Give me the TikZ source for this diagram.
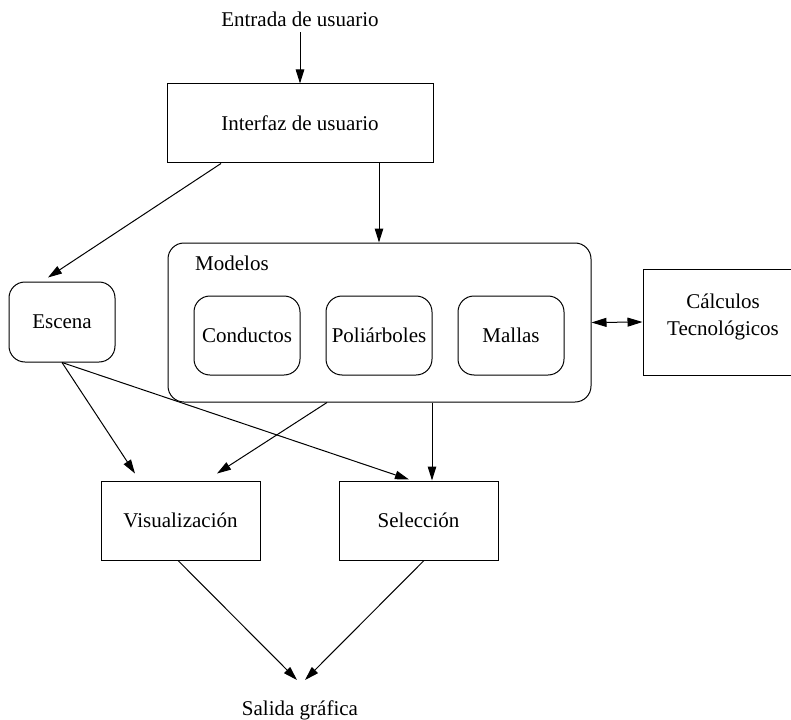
\documentclass[tikz,border=0pt]{standalone}
\usepackage{fontspec}
\setmainfont{Liberation Serif}
\usetikzlibrary{arrows.meta,calc}
\begin{document}
\begin{tikzpicture}[x=1pt,y=-1pt,
  every node/.style={font=\fontsize{21}{27}\selectfont},
  rect/.style={draw, line width=1pt, inner sep=0pt},
  rbox/.style={rect, rounded corners=16pt},
  conn/.style={line width=1pt, -{Triangle[length=14pt,width=8.5pt]}},
  dconn/.style={line width=1pt, {Triangle[length=15pt,width=9pt]}-{Triangle[length=15pt,width=9pt]}}]
\useasboundingbox (0,0) rectangle (791,719);
\clip (0,0) rectangle (791,719);

\node[anchor=base, inner xsep=0pt, inner ysep=5pt] (entrada) at (300,27) {Entrada de usuario};
\node[rect, minimum width=266, minimum height=79] (interfaz) at (300,123.5) {Interfaz de usuario};
\node[rbox, minimum width=106, minimum height=80] (escena) at (62,322) {Escena};
\node[rbox, minimum width=423, minimum height=159] (modelos) at (379.5,322.5) {};
\node[anchor=base west, inner sep=0pt] (modeloslbl) at (195,270) {Modelos};
\node[rbox, minimum width=106, minimum height=79] (conductos) at (247,335.5) {Conductos};
\node[rbox, minimum width=106, minimum height=79] (poli) at (379,335.5) {Poliárboles};
\node[rbox, minimum width=106, minimum height=79] (mallas) at (511,335.5) {Mallas};
\node[rect, minimum width=160, minimum height=106] (calculos) at (723,322) {};
\node[align=center, inner sep=0pt] (calculostxt) at (723,316.5) {Cálculos\\Tecnológicos};
\node[rect, minimum width=159, minimum height=79] (visual) at (180.5,520.5) {Visualización};
\node[rect, minimum width=159, minimum height=79] (selec) at (418.5,520.5) {Selección};
\node[anchor=base, inner xsep=0pt, inner ysep=20pt] (salida) at (300,715) {Salida gráfica};

\draw[conn] (entrada) -- (interfaz);
\draw[conn] ($(interfaz.south)+(-79,0)$) -- ($(escena.north)+(-14,-4)$);
\draw[conn] ($(interfaz.south)+(79,0)$) coordinate (a1) -- (a1 |- modelos.north);
\draw[dconn] (modelos.east) -- (calculos.west);
\draw[conn] (escena.south) -- ($(visual.north)+(-45.5,-7)$);
\draw[conn] ($(modelos.south)+(-52.5,0)$) -- ($(visual.north)+(36.5,-7)$);
\draw[conn] (escena.south) -- ($(selec.north)+(-9.5,-1)$);
\draw[conn] ($(modelos.south)+(52.5,0)$) coordinate (a2) -- (a2 |- selec.north);
\draw[conn] ($(visual.south)+(-2.5,0)$) -- ($(salida.north)+(-3,0)$);
\draw[conn] ($(selec.south)+(5.5,0)$) -- ($(salida.north)+(5,0)$);
\end{tikzpicture}
\end{document}
